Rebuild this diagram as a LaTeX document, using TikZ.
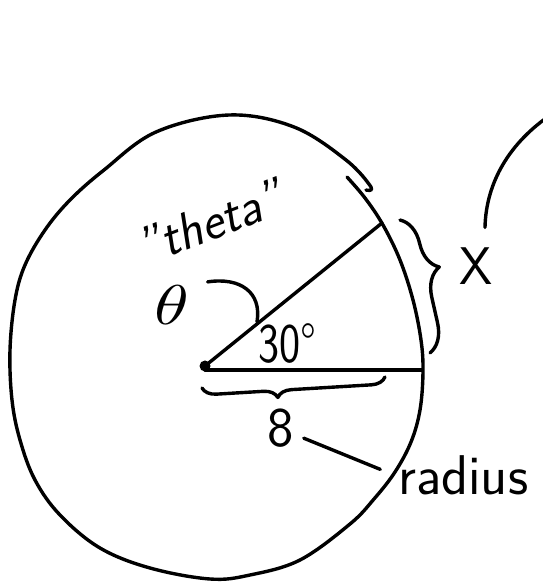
\documentclass[tikz,border=0pt]{standalone}
\usepackage{tikz}
\usetikzlibrary{decorations.pathreplacing,positioning}
\tikzset{
  trazo/.style={
    line width=3.4pt,
    line cap=round,
    line join=round,
    black
  },
  rotulo/.style={
    inner sep=2pt,
    font=\sffamily\fontsize{56}{60}\selectfont
  },
  llave/.style={
    trazo,
    decorate,
    decoration={brace,amplitude=#1}
  }
}

\begin{document}
\begin{tikzpicture}[x=1pt,y=1pt]
\useasboundingbox (0,0) rectangle (543,582);
% contorno dibujado a mano
\draw[trazo] plot[smooth,tension=.6] coordinates {
  (347,405) (365,384) (383,357) (400,322) (413,282) (421,242) (423,210)
  (420,172) (411,140) (395,110) (374,83) (350,58) (300,22) (250,7) (210,3)
  (150,14) (100,34) (60,67) (35,102) (20,142) (12,182) (10,232)
  (15,282) (25,317) (45,352) (70,382) (104,412) (156,450) (229,467)
  (294,455) (346,422) (371,395) (366,392)};
% centro y radios
\node[circle,fill=black,inner sep=0pt,minimum size=11pt] (ctr) at (205,216) {};
\coordinate (borde) at (422,212);
\coordinate (rayo) at (382,359);
\draw[trazo] (ctr.center) -- (rayo);
\draw[trazo] (ctr.center |- borde) -- (borde);
% rotulos
\node[rotulo,font=\sffamily\itshape\fontsize{52}{54}\selectfont,rotate=21] (apodo) at (210,360) {"theta"};
\node[inner sep=0pt,scale=5.6,xscale=1.25] (simb) at (172,277) {$\theta$};
\node[rotulo,xscale=.8,anchor=base west] (grados) at (257,219) {30°};
\node[rotulo] (ocho) at (281,154) {8};
\node[rotulo,anchor=base west] (radio) at (396,87) {radius};
\node[rotulo,font=\sffamily\fontsize{53}{56}\selectfont] (equis) at (476,316) {X};
% conectores
\draw[trazo,shorten <=17pt] (simb.north east) .. controls (240,305) and (262,290) .. (grados.north west);
\draw[trazo,shorten <=8pt,shorten >=17pt] (ocho.-25) -- (radio.west);
\coordinate (guia) at ([xshift=9pt,yshift=18pt]equis.north);
\coordinate (fuera) at (552,468);
\draw[trazo] (guia) .. controls (486,400) and (510,440) .. (fuera);
% llaves
\coordinate (llA) at (202,194);
\coordinate (llB) at (385,205);
\draw[llave=14pt,decoration={mirror,aspect=.41}] (llA) -- (llB);
\coordinate (llC) at (400,362);
\coordinate (llD) at (430,229);
\draw[llave=28pt,decoration={aspect=.4}] (llC) -- (llD);
\end{tikzpicture}
\end{document}
